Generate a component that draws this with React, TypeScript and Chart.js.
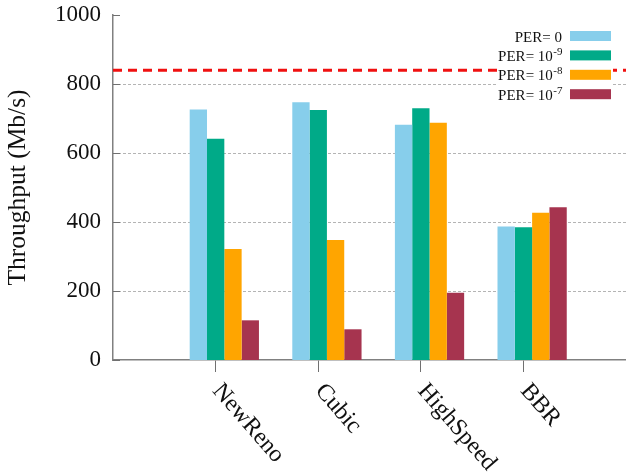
import React, { useEffect, useRef } from 'react';
import { Chart, registerables } from 'chart.js';

Chart.register(...registerables);

// ---- data ----
const CATEGORIES = ['NewReno', 'Cubic', 'HighSpeed', 'BBR'];
const SERIES_LABELS = ['PER= 0', 'PER= 10^-9', 'PER= 10^-8', 'PER= 10^-7'];
const SERIES_COLORS = ['#87CEEB', '#00AA88', '#FFA500', '#A6344F'];
const PER_0 = [726, 747, 682, 387];
const PER_1E9 = [641, 725, 730, 385];
const PER_1E8 = [322, 348, 688, 427];
const PER_1E7 = [115, 89, 195, 443];
const SERIES_VALUES = [PER_0, PER_1E9, PER_1E8, PER_1E7];
const LINK_CAPACITY = 840;
const Y_TICKS = [0, 200, 400, 600, 800, 1000];
const X_RANGE = [-1, 4];
const GROUP_SHIFT = 0.085; // gnuplot-style histogram offset of the bar group from its tick

const FONT = '"Liberation Serif", "Times New Roman", serif';

const decorPlugin = {
  id: 'decor',
  beforeDatasetsDraw(chart: any) {
    const { ctx, chartArea, scales } = chart;
    const y = scales.y;
    ctx.save();
    // dotted grid lines
    ctx.strokeStyle = '#b4b4b4';
    ctx.lineWidth = 1;
    ctx.setLineDash([3, 2]);
    Y_TICKS.forEach((v) => {
      if (v === Y_TICKS[0] || v === Y_TICKS[Y_TICKS.length - 1]) return;
      const py = Math.round(y.getPixelForValue(v)) + 0.5;
      ctx.beginPath();
      ctx.moveTo(chartArea.left, py);
      ctx.lineTo(chartArea.right, py);
      ctx.stroke();
    });
    ctx.setLineDash([]);
    // inward y tick marks
    ctx.strokeStyle = '#707070';
    Y_TICKS.forEach((v) => {
      const py = Math.round(y.getPixelForValue(v)) + 0.5;
      ctx.beginPath();
      ctx.moveTo(chartArea.left, py);
      ctx.lineTo(chartArea.left + 7, py);
      ctx.stroke();
    });
    ctx.restore();
  },
  afterDraw(chart: any) {
    const { ctx, chartArea, scales } = chart;
    const x = scales.x;
    ctx.save();
    // rotated category labels
    ctx.fillStyle = '#111';
    ctx.font = `24px ${FONT}`;
    ctx.textAlign = 'left';
    ctx.textBaseline = 'middle';
    CATEGORIES.forEach((c, i) => {
      const px = x.getPixelForValue(i);
      ctx.save();
      ctx.translate(px + 1, chartArea.bottom + 27);
      ctx.rotate((49 * Math.PI) / 180);
      ctx.fillText(c, 0, 0);
      ctx.restore();
    });

    // opaque key
    const boxRight = chartArea.right - 15;
    const boxW = 41;
    const boxH = 10;
    const textRight = boxRight - boxW - 8;
    const rowTop = chartArea.top + 21;
    const rowStep = 19.4;
    ctx.fillStyle = '#ffffff';
    ctx.fillRect(chartArea.right - 129, chartArea.top + 9, 116, 84);
    const bars = chart.data.datasets.filter((d: any) => d.type === 'bar');
    bars.forEach((d: any, i: number) => {
      const cy = rowTop + i * rowStep;
      ctx.fillStyle = d.backgroundColor;
      ctx.fillRect(boxRight - boxW, cy - boxH / 2, boxW, boxH);
      const [base, exp] = String(d.label).split('^');
      ctx.fillStyle = '#111';
      ctx.textAlign = 'left';
      ctx.textBaseline = 'alphabetic';
      ctx.font = `11px ${FONT}`;
      const expW = exp ? ctx.measureText(exp).width : 0;
      ctx.font = `15px ${FONT}`;
      const baseW = ctx.measureText(base).width;
      const x0 = textRight - expW - baseW;
      ctx.fillText(base, x0, cy + 5.5);
      if (exp) {
        ctx.font = `11px ${FONT}`;
        ctx.fillText(exp, x0 + baseW + 0.5, cy - 0.5);
      }
    });
    ctx.restore();
  },
};

export default function App() {
  const ref = useRef<HTMLCanvasElement | null>(null);
  useEffect(() => {
    if (!ref.current) return;
    const datasets: any[] = SERIES_VALUES.map((vals, s) => ({
      type: 'bar',
      label: SERIES_LABELS[s],
      backgroundColor: SERIES_COLORS[s],
      borderWidth: 0,
      order: 1,
      data: CATEGORIES.map((_, i) => ({ x: i + GROUP_SHIFT, y: vals[i] })),
      categoryPercentage: 0.675,
      barPercentage: 1.0,
    }));
    datasets.push({
      type: 'line',
      label: 'capacity',
      data: [
        { x: X_RANGE[0], y: LINK_CAPACITY },
        { x: X_RANGE[1], y: LINK_CAPACITY },
      ],
      borderColor: '#F01010',
      borderWidth: 3,
      borderDash: [9, 6],
      pointRadius: 0,
      order: 0,
    });
    const chart = new Chart(ref.current, {
      type: 'bar',
      data: { datasets },
      plugins: [decorPlugin],
      options: {
        responsive: false,
        animation: false,
        layout: { padding: { top: 15, right: 0, left: 0, bottom: 0 } },
        plugins: { legend: { display: false }, tooltip: { enabled: false } },
        scales: {
          x: {
            type: 'linear',
            min: X_RANGE[0],
            max: X_RANGE[1],
            offset: false,
            afterBuildTicks: (scale: any) => {
              scale.ticks = CATEGORIES.map((_, i) => ({ value: i }));
            },
            afterFit: (scale: any) => {
              scale.height = 115;
              scale.paddingLeft = 0;
              scale.paddingRight = 0;
            },
            ticks: { display: false },
            grid: {
              display: true,
              offset: false,
              drawOnChartArea: false,
              drawTicks: true,
              tickLength: 12,
              tickColor: '#707070',
              color: '#707070',
            },
            border: { display: true, color: '#808080', width: 1.5 },
          },
          y: {
            type: 'linear',
            min: Y_TICKS[0],
            max: Y_TICKS[Y_TICKS.length - 1],
            afterBuildTicks: (scale: any) => {
              scale.ticks = Y_TICKS.map((v) => ({ value: v }));
            },
            afterFit: (scale: any) => {
              scale.width = 113;
              scale.paddingTop = 0;
              scale.paddingBottom = 0;
            },
            ticks: {
              padding: 12,
              color: '#111',
              font: { family: FONT, size: 23 },
              callback: (v: any) => String(v),
            },
            grid: { display: false, drawTicks: false },
            border: { display: true, color: '#808080', width: 1.5 },
            title: {
              display: true,
              text: 'Throughput (Mb/s)',
              color: '#111',
              font: { family: FONT, size: 25.5 },
              padding: { top: 3, bottom: 0 },
            },
          },
        },
      } as any,
    });
    return () => chart.destroy();
  }, []);
  return (
    <div style={{ position: 'fixed', left: 0, top: 0, width: 626, height: 475, background: '#fff' }}>
      <canvas ref={ref} width={626} height={475} />
    </div>
  );
}
